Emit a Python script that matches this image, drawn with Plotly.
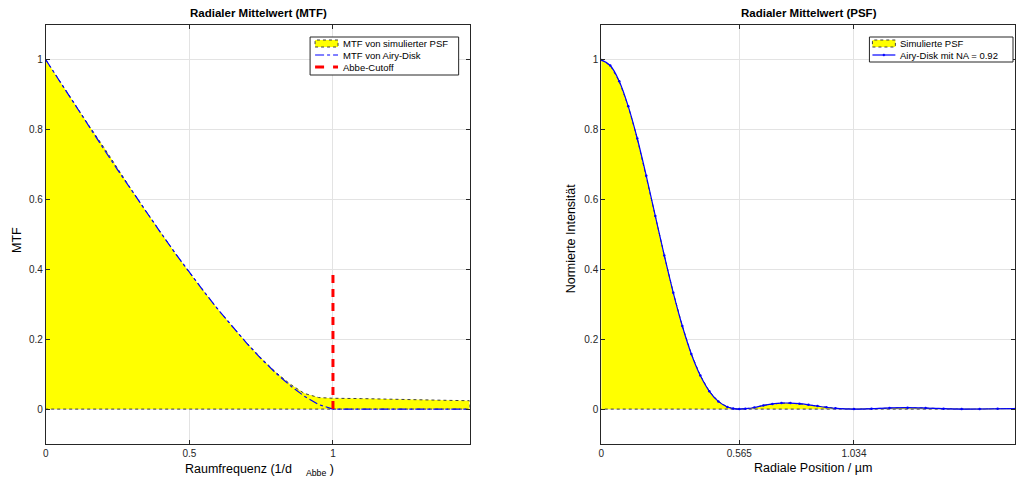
import plotly.graph_objects as go

# ---------------- data ----------------
# MTF (left panel)
mtf_freq = [0.0, 0.05, 0.1, 0.15, 0.2, 0.25, 0.3, 0.35, 0.4, 0.45, 0.5, 0.55, 0.6,
            0.65, 0.7, 0.75, 0.8, 0.85, 0.9, 0.95, 1.0, 1.1, 1.2, 1.3, 1.4, 1.476]
mtf_sim = [1.0, 0.937, 0.874, 0.812, 0.752, 0.688, 0.626, 0.565, 0.505, 0.447, 0.391,
           0.337, 0.285, 0.236, 0.189, 0.146, 0.106, 0.072, 0.045, 0.033, 0.031,
           0.030, 0.029, 0.027, 0.025, 0.024]
mtf_airy = [1.0, 0.936, 0.873, 0.810, 0.747, 0.685, 0.624, 0.564, 0.505, 0.447, 0.391,
            0.337, 0.285, 0.235, 0.188, 0.144, 0.104, 0.068, 0.037, 0.013, 0.0,
            0.0, 0.0, 0.0, 0.0, 0.0]
abbe_x = [1.0, 1.0]
abbe_y = [0.0, 0.4]

# PSF (right panel), radial position in µm
psf_r = [0.0, 0.0369, 0.0737, 0.1106, 0.1475, 0.1843, 0.2212, 0.2580, 0.2949, 0.3318,
         0.3686, 0.4055, 0.4424, 0.4792, 0.5161, 0.5400, 0.565, 0.5898, 0.6266, 0.6635,
         0.7004, 0.7373, 0.7741, 0.8110, 0.8479, 0.8847, 0.9216, 0.9584, 1.034, 1.1059,
         1.1796, 1.2534, 1.3271, 1.4008, 1.4745, 1.5483, 1.6220, 1.6957]
psf_sim = [1.0, 0.984, 0.939, 0.867, 0.775, 0.668, 0.553, 0.440, 0.333, 0.238, 0.158,
           0.096, 0.051, 0.022, 0.006, 0.0015, 0.0, 0.0011, 0.0045, 0.0105, 0.0148,
           0.0172, 0.0172, 0.0154, 0.0122, 0.0085, 0.0050, 0.0022, 0.0, 0.0013,
           0.0034, 0.0041, 0.0030, 0.0012, 0.0001, 0.0002, 0.0010, 0.0016]
psf_airy = [1.0, 0.984, 0.939, 0.867, 0.775, 0.668, 0.553, 0.440, 0.333, 0.238, 0.158,
            0.096, 0.051, 0.022, 0.006, 0.0015, 0.0, 0.0011, 0.0045, 0.0105, 0.0148,
            0.0172, 0.0172, 0.0154, 0.0122, 0.0085, 0.0050, 0.0022, 0.0, 0.0013,
            0.0034, 0.0041, 0.0030, 0.0012, 0.0001, 0.0002, 0.0010, 0.0016]

x_ticks_mtf = [0, 0.5, 1]
x_ticklabels_mtf = ["0", "0.5", "1"]
x_ticks_psf = [0, 0.565, 1.034]
x_ticklabels_psf = ["0", "0.565", "1.034"]
y_ticks = [0, 0.2, 0.4, 0.6, 0.8, 1]

legend1_labels = ["MTF von simulierter PSF", "MTF von Airy-Disk", "Abbe-Cutoff"]
legend2_labels = ["Simulierte PSF", "Airy-Disk mit NA = 0.92"]

W, H = 1016, 481
FONT = "Liberation Sans, Arial, Helvetica, sans-serif"
AX = "#262626"
GRID = "#e3e3e3"
YEL = "#ffff00"
BLUE = "#0000ff"
RED = "#ff0000"
OUTL = "#404040"


def px(x):
    return x / W


def py(y):
    return 1 - y / H


fig = go.Figure()

# left panel
fig.add_trace(go.Scatter(
    x=mtf_freq + mtf_freq[::-1], y=mtf_sim + [0.0] * len(mtf_sim),
    fill="toself", fillcolor=YEL, mode="lines",
    line=dict(color=OUTL, width=1, dash="dot"),
    name=legend1_labels[0], xaxis="x", yaxis="y"))
fig.add_trace(go.Scatter(
    x=mtf_freq, y=mtf_airy, mode="lines",
    line=dict(color=BLUE, width=1.2, dash="dashdot"),
    name=legend1_labels[1], xaxis="x", yaxis="y"))
fig.add_trace(go.Scatter(
    x=abbe_x, y=abbe_y, mode="lines",
    line=dict(color=RED, width=3, dash="8px,6px"),
    name=legend1_labels[2], xaxis="x", yaxis="y"))

# right panel
fig.add_trace(go.Scatter(
    x=psf_r + psf_r[::-1], y=psf_sim + [0.0] * len(psf_sim),
    fill="toself", fillcolor=YEL, mode="lines",
    line=dict(color=OUTL, width=1, dash="dot"),
    name=legend2_labels[0], xaxis="x2", yaxis="y2"))
fig.add_trace(go.Scatter(
    x=psf_r, y=psf_airy, mode="lines+markers", line_shape="spline",
    line=dict(color=BLUE, width=1.2),
    marker=dict(color=BLUE, size=2.5),
    name=legend2_labels[1], xaxis="x2", yaxis="y2"))

ax_common = dict(
    showline=True, linecolor=AX, linewidth=1, mirror="ticks",
    ticks="inside", ticklen=4, tickcolor=AX,
    showgrid=True, gridcolor=GRID, gridwidth=1, zeroline=False,
    tickfont=dict(family=FONT, size=10, color=AX),
)

x1d = [px(43), px(468)]
x2d = [px(600), px(1015)]
yd = [py(444), py(25)]

fig.update_layout(
    width=W, height=H, margin=dict(l=0, r=0, t=0, b=0),
    paper_bgcolor="white", plot_bgcolor="white",
    font=dict(family=FONT, color=AX),
    showlegend=False,
    xaxis=dict(domain=x1d, range=[0, 1.476], tickvals=x_ticks_mtf,
               ticktext=x_ticklabels_mtf, anchor="y", **ax_common),
    yaxis=dict(domain=yd, range=[-0.1, 1.1], tickvals=y_ticks, anchor="x", **ax_common),
    xaxis2=dict(domain=x2d, range=[0, 1.693], tickvals=x_ticks_psf,
                ticktext=x_ticklabels_psf, anchor="y2", **ax_common),
    yaxis2=dict(domain=yd, range=[-0.1, 1.1], tickvals=y_ticks, anchor="x2", **ax_common),
)


def text(t, x, y, size, anchor="center", angle=0, color="#000000"):
    fig.add_annotation(text=t, x=px(x), y=py(y), xref="paper", yref="paper",
                       xanchor=anchor, yanchor="middle", showarrow=False,
                       textangle=angle,
                       font=dict(family=FONT, size=size, color=color))


text("<b>Radialer Mittelwert (MTF)</b>", 256, 13, 11.5)
text("<b>Radialer Mittelwert (PSF)</b>", 808, 13, 11.5)
text("Raumfrequenz (1/d\u00a0\u00a0\u00a0\u00a0<sub>Abbe</sub>\u00a0)", 257, 470, 12.5)
text("Radiale Position / µm", 812, 468, 12.5)
text("MTF", 14, 240, 12.5, angle=-90)
text("Normierte Intensität", 570, 238, 12.5, angle=-90)


def rect(x0, y0, x1, y1, fill="white", line=AX, width=1, dash="solid"):
    fig.add_shape(type="rect", xref="paper", yref="paper",
                  x0=px(x0), x1=px(x1), y0=py(y1), y1=py(y0),
                  fillcolor=fill, line=dict(color=line, width=width, dash=dash))


def seg(x0, x1, y, color, width, dash):
    fig.add_shape(type="line", xref="paper", yref="paper",
                  x0=px(x0), x1=px(x1), y0=py(y), y1=py(y),
                  line=dict(color=color, width=width, dash=dash))


# legend 1 (left panel)
rect(308, 37, 457, 75)
rect(313, 40, 336, 47, fill=YEL, line=OUTL, width=1, dash="dot")
seg(313, 336, 55, BLUE, 1.2, "dashdot")
seg(313, 336, 67, RED, 3, "9px,9px")
for lab, yy in zip(legend1_labels, [43.5, 55, 67]):
    text(lab, 339, yy, 9.5, anchor="left")

# legend 2 (right panel)
rect(869, 37, 1013, 62)
rect(872, 40, 895, 47, fill=YEL, line=OUTL, width=1, dash="dot")
seg(872, 895, 55, BLUE, 1.2, "solid")
fig.add_shape(type="circle", xref="paper", yref="paper",
              x0=px(882.5), x1=px(884.5), y0=py(56), y1=py(54),
              fillcolor=BLUE, line=dict(color=BLUE, width=0.5))
for lab, yy in zip(legend2_labels, [43.5, 55]):
    text(lab, 898, yy, 9.5, anchor="left")

fig.write_html("out.html", config={"displayModeBar": False},
               post_script="document.body.style.margin='0';")
